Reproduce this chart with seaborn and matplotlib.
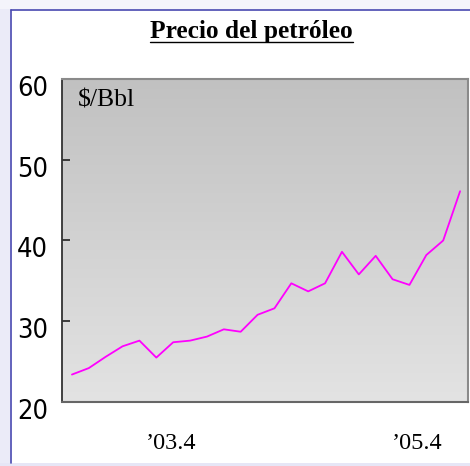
import numpy as np
import pandas as pd
import matplotlib
matplotlib.use("Agg")
import matplotlib.pyplot as plt
import matplotlib.transforms as mtransforms
from matplotlib import font_manager as fm
from matplotlib.patches import Rectangle
from matplotlib.lines import Line2D
import seaborn as sns

# datos (precio mensual aproximado, $/Bbl)
precio = [23.4, 24.2, 25.6, 26.9, 27.6, 25.5, 27.4, 27.6, 28.1, 29.0, 28.7, 30.8,
          31.6, 34.7, 33.7, 34.7, 38.6, 35.8, 38.1, 35.2, 34.5, 38.2, 40.0, 46.1]
periodo = list(range(len(precio)))
etiquetas_x = ["\u201903.4", "\u201905.4"]
pos_etiquetas_x = [5.9, 20.45]
ticks_y = [20, 30, 40, 50, 60]

df = pd.DataFrame({"periodo": periodo, "precio": precio})

sns.set_style("ticks")
plt.rcParams["font.family"] = ["Liberation Serif", "DejaVu Serif"]
plt.rcParams["text.color"] = "black"
plt.rcParams["xtick.labelcolor"] = "black"
plt.rcParams["ytick.labelcolor"] = "black"

# buscar una fuente estrecha (no negrita) para los numeros del eje y
def es_normal(f):
    return f.weight in (400, "normal", "regular", "book")

estrechas = [f for f in fm.fontManager.ttflist
             if ("Narrow" in f.name or "Condensed" in f.name
                 or f.stretch in ("condensed", "semi-condensed", "extra-condensed", "ultra-condensed"))
             and f.style == "normal" and "Mono" not in f.name and es_normal(f)
             and "Bold" not in f.fname]
if estrechas:
    fuente_y = fm.FontProperties(fname=estrechas[0].fname, size=20)
else:
    fuente_y = fm.FontProperties(family="DejaVu Sans", size=17)

fig = plt.figure(figsize=(4.70, 4.66), dpi=100)
W, H = 470, 466

# fondo de la diapositiva
fig.patches.append(Rectangle((0, 0), 10 / W, 1, transform=fig.transFigure,
                             facecolor="#ebebf8", edgecolor="none", zorder=0))
fig.patches.append(Rectangle((0, (H - 9) / H), 1, 9 / H, transform=fig.transFigure,
                             facecolor="#f4f4fb", edgecolor="none", zorder=0))
fig.patches.append(Rectangle((0, 0), 1, 3 / H, transform=fig.transFigure,
                             facecolor="#e6e6f6", edgecolor="none", zorder=0))
fig.lines.append(Line2D([10.5 / W, 10.5 / W], [3 / H, (H - 9.5) / H], transform=fig.transFigure,
                        color="#4848b0", lw=1.2))
fig.lines.append(Line2D([10.5 / W, 1], [(H - 9.5) / H, (H - 9.5) / H], transform=fig.transFigure,
                        color="#4848b0", lw=1.2))

ax = fig.add_axes([62 / W, (H - 402) / H, 406 / W, 323 / H])

# degradado gris del fondo del grafico
grad = np.linspace(0, 1, 256).reshape(-1, 1)
ax.imshow(grad, extent=[0, 1, 0, 1], transform=ax.transAxes, aspect="auto",
          cmap=matplotlib.colors.LinearSegmentedColormap.from_list("g", ["#c1c1c1", "#e3e3e3"]),
          origin="upper", zorder=0)

sns.lineplot(data=df, x="periodo", y="precio", color="#ff00ff", linewidth=1.3, ax=ax, zorder=3)

ax.set_xlim(-0.59, 23.47)
ax.set_ylim(20, 60)
ax.set_xlabel("")
ax.set_ylabel("")

ax.set_yticks(ticks_y)
ax.set_yticklabels([str(t) for t in ticks_y])
for lab in ax.get_yticklabels():
    lab.set_fontproperties(fuente_y)
ax.tick_params(axis="y", direction="in", length=6, width=1.2, color="#222222", pad=10)
offset = mtransforms.ScaledTranslation(0, -7 / 100, fig.dpi_scale_trans)
for lab in ax.get_yticklabels():
    lab.set_transform(lab.get_transform() + offset)

# ajustar el tamaño para que "60" mida unos 31 px de ancho
fig.canvas.draw()
ancho = ax.get_yticklabels()[-1].get_window_extent().width
nuevo = fuente_y.get_size() * 31 / ancho
for lab in ax.get_yticklabels():
    lab.set_fontsize(nuevo)

ax.set_xticks(pos_etiquetas_x)
ax.set_xticklabels(etiquetas_x, fontsize=17.5)
ax.tick_params(axis="x", length=0, pad=22)

for lado in ["top", "right"]:
    ax.spines[lado].set_color("#8a8a8a")
    ax.spines[lado].set_linewidth(1.5)
ax.spines["left"].set_color("#333333")
ax.spines["left"].set_linewidth(1.3)
ax.spines["bottom"].set_color("#666666")
ax.spines["bottom"].set_linewidth(1.5)

ax.text(16 / 406, 0.916, "$/Bbl", transform=ax.transAxes, fontsize=18.5, va="baseline",
        ha="left", zorder=4)

titulo = fig.text(251.5 / W, (H - 38) / H, "Precio del petróleo", fontsize=18.3,
                  fontweight="bold", ha="center", va="baseline")

# subrayado del titulo
fig.canvas.draw()
bb = titulo.get_window_extent()
y_sub = (H - 42) / H
fig.lines.append(Line2D([bb.x0 / W, bb.x1 / W], [y_sub, y_sub], transform=fig.transFigure,
                        color="black", lw=1.0))

fig.savefig("out.png", dpi=100)
